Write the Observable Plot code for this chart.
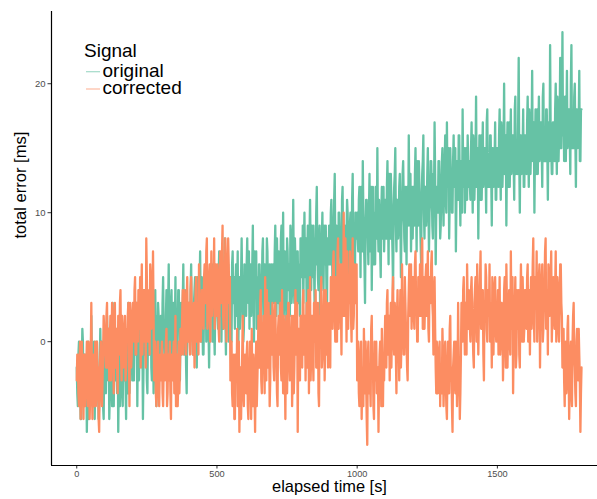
<!DOCTYPE html>
<html>
<head>
<meta charset="utf-8">
<script src="https://cdn.jsdelivr.net/npm/d3@7"></script>
<script src="https://cdn.jsdelivr.net/npm/@observablehq/plot@0.6"></script>
<style>
  html, body { margin: 0; padding: 0; background: #fff; }
  #chart { position: relative; width: 597px; height: 499px; }
</style>
</head>
<body>
<div id="chart"></div>
<script>
// sampling step of the series (seconds)
const stepSeconds = 2;
const seriesNames = ["original", "corrected"];
const seriesColors = ["#66c2a5", "#fc8d62"];
const xTicks = [0, 500, 1000, 1500];
const yTicks = [0, 10, 20];

// total error [ms], original signal, one value every 2 s from 0 to 1800 s (one row = 100 s)
const originalValues = [
  -2,-4,-5,-1,0,-3,-3,-6,-6,-2,1,0,-4,-5,-1,-3,-3,-1,-7,-4,0,-6,-2,-1,-5,-3,2,-2,-1,-5,-4,0,-6,-3,-2,-1,0,-4,-3,-6,-5,-2,1,-3,-2,0,-4,-5,-6,-1,
  -1,-3,-4,0,2,-2,-3,1,-6,-4,0,-1,-2,-5,3,-2,-5,0,-1,-3,1,-2,-4,1,-7,-3,0,-5,-2,-1,2,-4,-5,0,-3,-2,1,-3,-6,0,-1,-4,3,-1,-4,-2,-2,1,0,-3,
  1,-2,-3,1,3,-1,-1,3,-5,0,2,-3,0,2,4,-1,-2,1,-6,-2,1,4,-1,0,3,-3,-4,1,2,-1,0,3,5,-2,-3,2,1,-4,-2,1,4,-1,-5,2,0,3,2,-2,-1,0,
  2,0,-1,3,5,1,0,-2,-2,2,4,-1,1,3,6,0,-3,1,3,4,0,-2,2,3,-1,1,5,-1,-2,2,1,4,4,0,-3,2,3,-1,0,3,6,1,-1,4,2,-2,-4,2,1,3,
  3,1,0,4,6,2,1,-1,-1,3,4,5,2,0,-2,3,5,1,3,4,7,2,0,5,2,-1,-1,3,4,2,6,0,1,4,3,1,-2,3,5,2,2,6,0,3,6,1,-1,4,3,2,
  4,2,1,5,7,3,2,6,0,4,5,1,3,6,8,2,-1,5,4,3,6,0,2,4,5,2,0,6,7,3,3,5,1,4,6,2,4,7,-1,3,5,1,2,5,8,4,3,0,1,6,
  5,3,2,6,8,4,3,7,1,5,6,2,4,6,9,3,0,7,5,4,7,1,3,5,2,6,6,3,-1,5,4,7,8,2,1,6,5,4,3,8,7,3,0,5,6,2,4,6,2,4,
  6,4,3,7,9,5,2,8,5,3,7,6,1,4,8,9,4,6,10,2,3,7,6,5,0,8,7,4,5,6,2,9,8,3,4,7,11,5,3,8,6,4,1,7,7,3,5,6,2,8,
  8,6,5,9,3,7,10,5,7,8,2,6,9,4,6,8,11,7,4,9,7,5,9,6,3,8,6,10,12,7,5,4,8,9,2,6,7,8,10,5,4,9,6,7,9,5,1,8,7,6,
  9,7,6,10,11,8,4,6,8,11,13,7,5,9,7,5,2,10,10,8,8,6,5,11,12,7,6,9,9,5,3,8,11,10,7,6,4,9,10,7,6,11,13,8,8,6,5,10,9,8,
  10,8,7,11,12,9,5,12,9,7,14,10,8,6,3,9,11,11,9,8,6,10,13,7,10,12,4,9,12,6,8,10,6,12,11,8,15,9,7,11,9,7,5,10,12,8,10,12,7,9,
  11,9,8,12,14,10,6,13,10,8,13,11,9,7,4,10,12,13,15,9,7,11,11,8,9,12,13,10,5,9,10,13,14,11,8,7,12,10,6,12,11,9,16,11,9,13,7,10,12,8,
  12,10,9,13,15,11,7,14,11,9,14,12,10,8,6,11,13,14,16,10,8,12,12,9,10,13,15,11,7,10,11,14,14,12,9,8,13,11,17,13,6,10,12,12,10,14,14,11,8,9,
  12,14,15,11,9,13,14,16,11,10,17,12,13,15,8,11,15,13,12,10,10,14,16,12,13,15,7,11,14,13,11,16,16,12,9,14,13,10,18,13,12,15,10,12,15,14,11,16,14,12,
  14,12,11,15,17,13,10,16,15,11,13,14,19,12,12,15,8,13,16,11,14,16,11,14,17,12,13,15,15,13,10,17,18,12,14,14,12,16,16,13,9,15,15,12,13,14,17,11,11,15,
  15,13,12,16,18,14,11,17,16,12,14,15,20,13,13,16,9,14,17,12,15,17,12,15,18,13,14,16,16,14,11,18,19,13,15,15,13,17,22,14,10,16,16,13,14,15,18,12,12,16,
  16,14,13,17,19,15,12,18,17,13,15,16,21,14,14,17,10,15,18,13,16,18,13,16,19,14,15,17,17,15,12,19,20,14,16,16,14,18,18,15,11,17,17,14,23,16,15,13,13,17,
  17,15,14,18,20,16,13,19,18,14,16,17,22,15,15,18,24,16,19,14,17,19,14,17,21,15,16,18,18,16,13,20,23,15,17,17,15,19,20,16,12,18,18,15,16,17,21,14,14,18,
  18
];

// total error [ms], corrected signal, one value every 2 s from 0 to 1800 s (one row = 100 s)
const correctedValues = [
  -3,-1,-1,-4,-5,-2,0,-6,-4,0,-2,-3,-6,-1,-1,-5,-3,-2,0,-4,-5,0,-2,-6,-4,-1,3,-3,-6,-2,-1,-5,-3,0,-5,-4,0,-3,-2,-6,-7,-2,-1,0,-4,-5,-3,-1,2,1,
  1,-1,-2,2,3,-2,0,1,-3,0,2,-3,-1,3,1,-1,-4,2,3,-2,0,1,-2,-4,2,0,-1,3,4,-1,-3,2,1,-2,-1,0,2,-3,-2,1,0,2,3,-1,-5,3,1,-2,-1,2,
  3,1,0,4,5,-1,-1,3,2,0,4,2,1,5,-2,3,6,-1,2,4,0,2,4,-2,8,5,1,0,3,4,-1,6,5,1,2,3,7,2,-3,-1,0,-4,-5,-2,-1,0,-4,-5,-2,-1,
  -3,-1,0,-4,-5,-2,-1,-3,-2,0,1,-5,-4,-1,-3,-2,0,-4,-6,-1,-2,-3,-1,0,-4,-2,2,-5,-3,-1,-5,-3,0,-4,-2,1,-1,0,2,4,-1,1,4,3,1,-1,3,5,0,2,
  3,0,-1,4,5,2,1,-1,2,3,-2,1,4,5,0,2,3,-1,6,3,1,0,2,4,4,2,1,5,6,3,3,7,8,1,2,4,5,6,0,3,7,2,3,5,4,8,1,3,6,5,
  2,6,5,1,0,4,7,3,3,7,9,2,1,5,4,8,6,0,2,4,8,6,3,5,-3,0,0,-4,-5,-2,-1,-6,-6,-1,-2,-3,1,-5,-4,0,-7,-3,-2,-6,-3,-1,2,-4,-5,-2,
  -1,-3,-4,-1,0,-5,-6,-2,-2,0,-3,-6,1,-3,-5,-1,-2,-4,-7,-2,0,-5,-3,-1,2,-1,-2,3,4,-3,-4,0,1,2,-1,-4,5,1,-3,4,0,-2,3,0,-5,-3,2,1,-1,3,
  1,-2,-3,2,3,0,-1,-4,-5,1,2,-1,0,3,-2,-3,4,0,-4,2,1,-2,-6,1,2,-4,-1,3,3,-1,-3,0,0,2,-5,-2,2,-4,-2,1,4,-1,-1,3,-7,0,1,-3,-3,2,
  2,0,-2,3,4,-1,0,2,-3,1,3,-2,1,4,-4,0,5,-3,-1,2,2,-1,-3,3,0,1,4,-2,-2,0,3,-4,-5,2,1,3,5,-2,-1,1,2,4,-3,0,4,-1,0,3,-2,1,
  1,3,-2,5,4,2,1,6,7,3,2,0,5,4,0,7,8,1,3,5,6,3,-1,6,4,2,10,4,2,8,5,0,7,3,1,5,3,7,6,2,0,4,8,1,2,6,5,3,3,6,
  -3,-1,0,-4,-5,-2,-1,0,-6,-3,-2,-5,1,-2,-4,0,-3,-6,-8,-1,0,-4,-2,-3,-5,1,2,-2,-1,-5,-6,0,-3,-1,0,-4,-4,-2,-7,-3,-1,0,-2,-5,1,-2,-5,-1,-3,0,
  2,0,-2,3,4,-1,0,2,-3,1,3,-2,1,4,5,0,-1,3,2,-1,-4,2,4,1,0,-3,1,4,-2,0,6,2,2,-1,-1,5,3,1,0,-2,-3,2,4,6,2,3,6,1,3,5,
  5,2,1,6,7,3,3,0,0,5,4,2,6,4,2,7,8,1,3,5,1,3,5,6,2,4,7,1,0,5,4,3,6,7,3,2,-1,4,5,1,-2,-4,0,-1,-4,-3,-1,0,-5,-2,
  -2,-4,1,-1,-5,-3,-1,0,-3,-5,-6,-2,0,-4,-4,1,2,-3,-2,-5,-7,-2,-1,0,-3,-4,0,-1,-5,-3,3,-2,-2,-6,-4,-1,3,1,0,4,5,2,-1,3,2,-1,6,3,1,4,
  3,1,0,4,5,2,1,-1,-2,3,4,5,2,0,6,3,-1,2,3,5,7,1,1,4,4,-1,-3,3,2,6,5,1,0,4,3,2,6,0,1,3,-2,5,4,-1,2,4,5,1,0,3,
  2,4,-1,1,5,-1,0,3,3,2,-3,0,4,5,1,-2,6,3,-2,1,2,4,0,-1,7,2,1,5,-4,0,3,3,5,-2,-1,4,2,1,4,-1,-2,3,6,2,0,5,3,0,1,4,
  4,2,1,5,6,0,2,4,-1,3,5,1,3,6,8,2,0,5,4,3,7,0,2,4,5,6,-2,2,3,5,6,0,1,3,4,7,8,1,2,4,-1,6,5,2,3,5,7,0,2,4,
  5,2,1,4,7,0,2,5,4,1,0,3,6,6,3,2,-2,0,1,-3,-5,-1,0,-4,-3,1,2,-2,-6,-3,-1,0,-4,-5,0,2,3,-1,-2,-4,-5,0,1,-2,-3,1,-1,-3,-7,-4,
  -2
];

const originalRows = originalValues.map((v, i) => ({t: i * stepSeconds, v}));
const correctedRows = correctedValues.map((v, i) => ({t: i * stepSeconds, v}));

const font = "'Liberation Sans', Arial, Helvetica, sans-serif";

const chart = Plot.plot({
  width: 597,
  height: 499,
  marginLeft: 51,
  marginRight: 0,
  marginTop: 11,
  marginBottom: 34,
  style: {fontFamily: font, background: "#fff", overflow: "visible"},
  x: {domain: [-90, 1857]},
  y: {domain: [-9.6, 25.6]},
  marks: [
    Plot.lineY(originalRows, {x: "t", y: "v", stroke: seriesColors[0], strokeWidth: 2.3}),
    Plot.lineY(correctedRows, {x: "t", y: "v", stroke: seriesColors[1], strokeWidth: 2.3}),
    Plot.axisX({ticks: xTicks, tickFormat: d3.format("d"), tickSize: 3.5, tickPadding: 1, fontSize: 9.2, stroke: "#333", fill: "#4d4d4d", label: null}),
    Plot.axisY({ticks: yTicks, tickFormat: d3.format("d"), tickSize: 3.5, tickPadding: 2.5, fontSize: 9.5, stroke: "#333", fill: "#4d4d4d", label: null}),
    Plot.ruleX([-90], {stroke: "#000", strokeWidth: 1.2}),
    Plot.ruleY([-9.6], {stroke: "#000", strokeWidth: 1.2}),
    Plot.text(["elapsed time [s]"], {frameAnchor: "bottom", dx: 5, dy: 26.3, fontSize: 16.4, fill: "#000"}),
    Plot.text(["total error [ms]"], {frameAnchor: "left", rotate: -90, dx: -31, fontSize: 16.6, fill: "#000"})
  ]
});

document.getElementById("chart").appendChild(chart);

// legend (inside the panel, top-left)
const svg = d3.select(chart);
const lg = svg.append("g").attr("font-family", font).attr("text-anchor", "start");
lg.append("text").attr("x", 84).attr("y", 56.5).attr("font-size", 19).attr("fill", "#000").text("Signal");
seriesNames.forEach((name, i) => {
  const yb = 76.7 + i * 17.3;
  lg.append("line").attr("x1", 86).attr("x2", 100).attr("y1", yb - 5).attr("y2", yb - 5)
    .attr("stroke", seriesColors[i]).attr("stroke-width", 1.2).attr("stroke-opacity", 0.6);
  lg.append("text").attr("x", 102.5).attr("y", yb).attr("font-size", 19).attr("fill", "#000").text(name);
});
</script>
</body>
</html>
